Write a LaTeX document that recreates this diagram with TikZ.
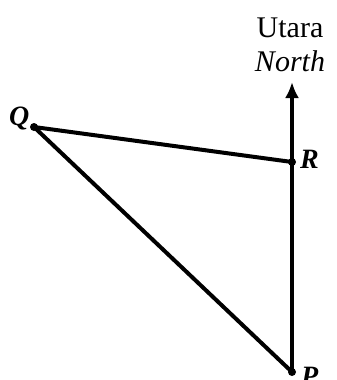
\documentclass[tikz,border=0pt]{standalone}
\usepackage{fontspec}
\setmainfont{Liberation Serif}
\usetikzlibrary{arrows.meta}
\tikzset{
  leg/.style={line width=4pt, line cap=round},
  vtx/.style={circle, fill, inner sep=0pt, minimum size=8pt},
  lbl/.style={font=\fontsize{28}{30}\selectfont\itshape\bfseries, inner sep=0pt}
}
\begin{document}
\begin{tikzpicture}[x=1pt, y=-1pt, font=\fontsize{30}{32}\selectfont]
\useasboundingbox (0,0) rectangle (337,380);
\node[vtx] (Q) at (34,127) {};
\node[vtx] (R) at (292,162) {};
\node[vtx] (P) at (292,372) {};
\coordinate (N) at (292,82);
\node[lbl, anchor=base west] (q) at (9,125) {Q};
\node[lbl, anchor=base west] (r) at (300,168) {R};
\node[lbl, anchor=base west] (p) at (301,385) {P};
\node[anchor=base, inner sep=0pt] (utara) at (290,37) {Utara};
\node[anchor=base, inner sep=0pt, font=\fontsize{30}{32}\selectfont\itshape] (north) at (290,71) {North};
\draw[leg] (Q.center) -- (R.center);
\draw[leg] (Q.center) -- (P.center);
\draw[leg, -{Latex[length=16pt,width=14pt]}] (P.center) -- (N);
\end{tikzpicture}
\end{document}
